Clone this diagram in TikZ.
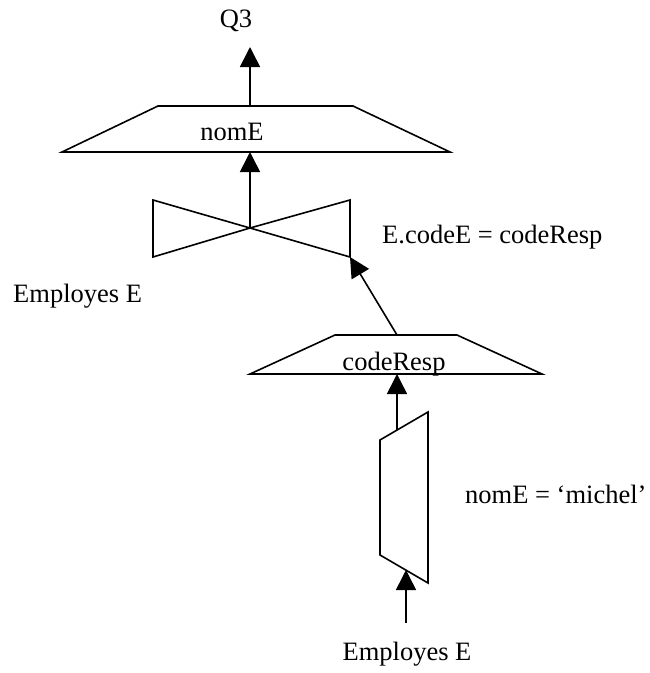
\documentclass[tikz,border=0pt]{standalone}
\usepackage{fontspec}
\setmainfont{Liberation Serif}
\usetikzlibrary{arrows.meta}
\begin{document}
\begin{tikzpicture}[x=1pt,y=-1pt,
  shp/.style={line width=1.6pt,line join=miter},
  arr/.style={line width=1.6pt,-{Triangle[length=20pt,width=20pt]}},
  lbl/.style={inner sep=0pt,font=\fontsize{26.5}{30}\selectfont}]
\useasboundingbox (0,0) rectangle (650,673);
% top projection
\draw[shp] (62,152) -- (158,106) -- (353,106) -- (450,152) -- cycle;
\coordinate (p1top) at (250,106);
\coordinate (p1bot) at (250,152);
\coordinate (q3) at (250,47);
% join (bowtie)
\draw[shp] (250,228) -- (153,200) -- (153,257) -- cycle;
\draw[shp] (250,228) -- (350,200) -- (350,257) -- cycle;
\coordinate (jc) at (250,228);
\coordinate (jcorner) at (350,257);
% second projection
\draw[shp] (250,374) -- (335,335) -- (457,335) -- (542,374) -- cycle;
\coordinate (p2top) at (397,335);
\coordinate (p2bot) at (397,374);
% selection
\draw[shp] (380,440) -- (428,412) -- (428,583) -- (380,555) -- cycle;
\coordinate (stop) at (397,430);
\coordinate (sbot) at (406,570);
\coordinate (src) at (406,623);
% connectors
\draw[arr] (p1top) -- (q3);
\draw[arr] (jc) -- (p1bot);
\draw[arr] (p2top) -- (jcorner);
\draw[arr] (stop) -- (p2bot);
\draw[arr] (src) -- (sbot);
% labels
\node[lbl,anchor=base] (tq3) at (236,27) {Q3};
\node[lbl,anchor=base] (tnom) at (232,140) {nomE};
\node[lbl,anchor=base] (tcode) at (394,370) {codeResp};
\node[lbl,anchor=base west] (tjoin) at (382,243) {E.codeE = codeResp};
\node[lbl,anchor=base west] (tsel) at (465,503) {nomE = ‘michel’};
\node[lbl,anchor=base west] (temp1) at (13,302) {Employes E};
\node[lbl,anchor=base] (temp2) at (407,660) {Employes E};
\end{tikzpicture}
\end{document}
